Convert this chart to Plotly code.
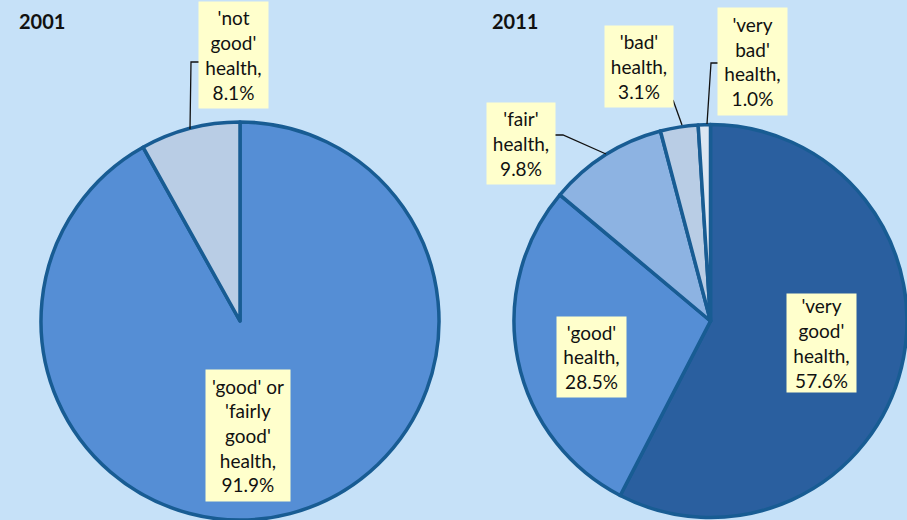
import plotly.graph_objects as go

W, H = 907, 520

# 2001 census
labels_2001 = ["'good' or 'fairly good' health", "'not good' health"]
values_2001 = [91.9, 8.1]
colors_2001 = ["#558ed5", "#b9cde5"]

# 2011 census
labels_2011 = ["'very good' health", "'good' health", "'fair' health", "'bad' health", "'very bad' health"]
values_2011 = [57.6, 28.5, 9.8, 3.1, 1.0]
colors_2011 = ["#2a5f9f", "#558ed5", "#8db3e2", "#b9cde5", "#dce6f2"]

OUTLINE = "#185c93"
BG = "#c6e1f8"
LABEL_BG = "#ffffcc"
FONT = "Lato"


def px(x, y):
    # pixel (from top-left) -> paper coords
    return x / W, 1 - y / H


fig = go.Figure()

fig.add_trace(go.Pie(
    labels=labels_2001, values=values_2001, sort=False, direction="clockwise", rotation=0,
    marker=dict(colors=colors_2001, line=dict(color=OUTLINE, width=3.5)),
    textinfo="none", hoverinfo="label+percent", showlegend=False,
    domain=dict(x=[41 / W, 439 / W], y=[0, 398 / H]),
))
fig.add_trace(go.Pie(
    labels=labels_2011, values=values_2011, sort=False, direction="clockwise", rotation=0,
    marker=dict(colors=colors_2011, line=dict(color=OUTLINE, width=3.5)),
    textinfo="none", hoverinfo="label+percent", showlegend=False,
    domain=dict(x=[514 / W, 1], y=[0, 398 / H]),
))

# label boxes: text, left, top, right, bottom (pixels)
boxes = [
    ("'not<br>good'<br>health,<br>8.1%", 199, 2, 268, 108),
    ("'good' or<br>'fairly<br>good'<br>health,<br>91.9%", 206, 370, 290, 501),
    ("'fair'<br>health,<br>9.8%", 487, 103, 555, 184),
    ("'bad'<br>health,<br>3.1%", 605, 26, 673, 107),
    ("'very<br>bad'<br>health,<br>1.0%", 718, 8, 787, 115),
    ("'good'<br>health,<br>28.5%", 557, 317, 626, 397),
    ("'very<br>good'<br>health,<br>57.6%", 787, 294, 856, 392),
]
for txt, x0, y0, x1, y1 in boxes:
    cx, cy = px((x0 + x1) / 2, (y0 + y1) / 2)
    fig.add_annotation(
        text=txt, x=cx, y=cy, xref="paper", yref="paper", xanchor="center", yanchor="middle",
        showarrow=False, width=x1 - x0, height=y1 - y0, align="center", valign="middle",
        bgcolor=LABEL_BG, borderpad=0, font=dict(family=FONT, size=19, color="#111111"),
    )

# leader lines
leaders = [
    [(199, 62), (191, 62), (190, 129)],
    [(555, 135), (563, 135), (606, 154)],
    [(673, 100), (682, 125)],
    [(718, 63), (711, 63), (707, 124)],
]
for pts in leaders:
    path = ""
    for i, (x, y) in enumerate(pts):
        a, b = px(x, y)
        path += ("M" if i == 0 else "L") + f"{a},{b} "
    fig.add_shape(type="path", path=path, xref="paper", yref="paper",
                  line=dict(color="#111111", width=1.3))

# titles
for title, x in [("2001", 17), ("2011", 490)]:
    a, b = px(x, 21)
    fig.add_annotation(text=f"<b>{title}</b>", x=a, y=b, xref="paper", yref="paper",
                       xanchor="left", yanchor="middle", showarrow=False,
                       font=dict(family=FONT, size=20, color="#111111"))

fig.update_layout(
    width=W, height=H, margin=dict(l=0, r=0, t=0, b=0),
    paper_bgcolor=BG, plot_bgcolor=BG,
)

# drop the default page margin so the figure sits at the window's corner
fig.write_html("out.html", config={"displayModeBar": False},
               post_script="document.body.style.margin='0';document.body.style.overflow='hidden';")
